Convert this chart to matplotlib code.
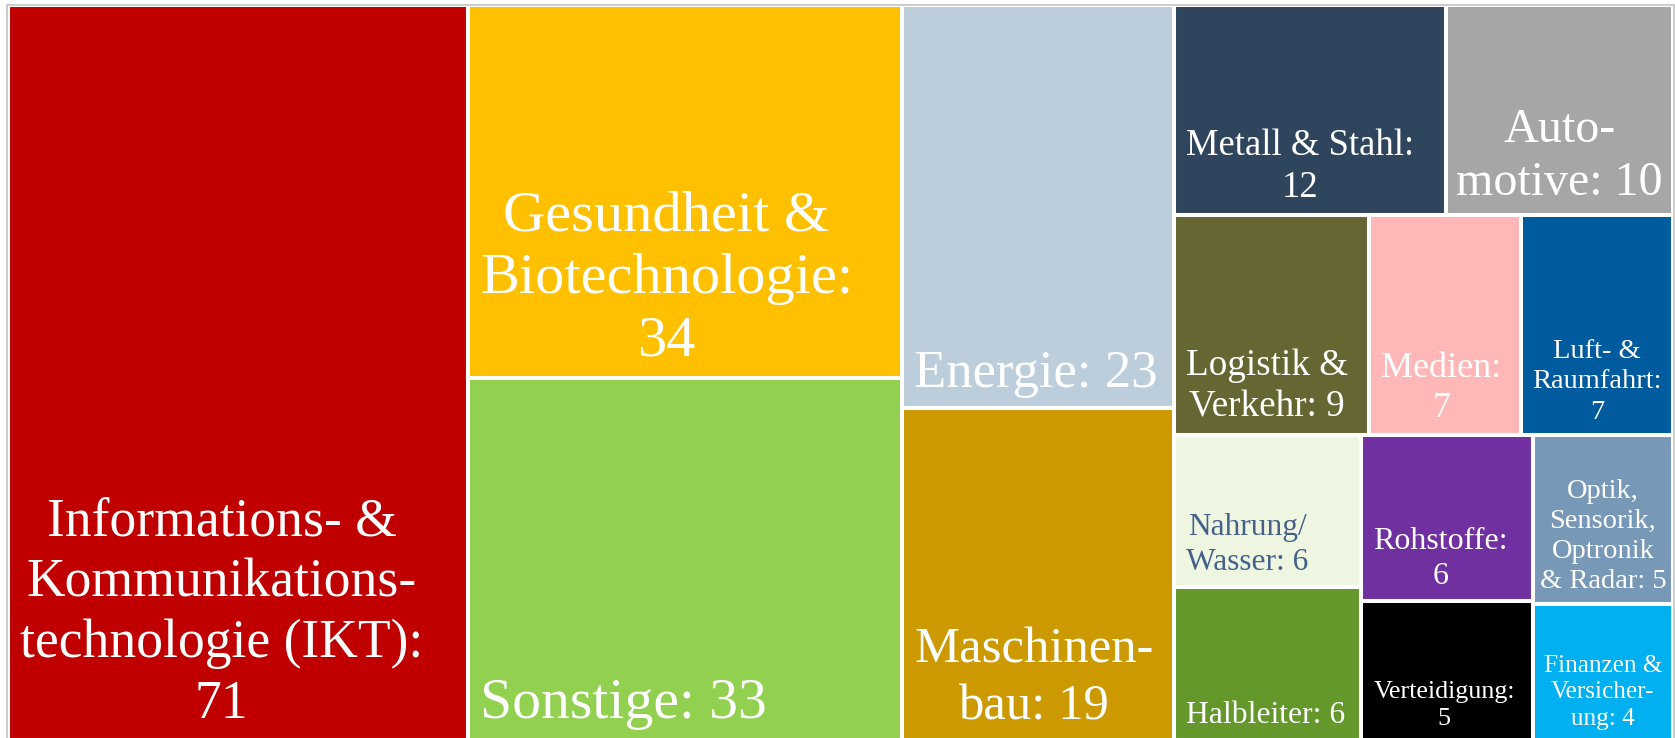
import matplotlib.pyplot as plt
from matplotlib.patches import Rectangle
from matplotlib import transforms

# Branchen und Anzahl
labels = [
    "Informations- &\nKommunikations-\ntechnologie (IKT):\n{v}",
    "Gesundheit &\nBiotechnologie:\n{v}",
    "Sonstige: {v}",
    "Energie: {v}",
    "Maschinen-\nbau: {v}",
    "Metall & Stahl:\n{v}",
    "Auto-\nmotive: {v}",
    "Logistik &\nVerkehr: {v}",
    "Medien:\n{v}",
    "Luft- &\nRaumfahrt:\n{v}",
    "Nahrung/\nWasser: {v}",
    "Rohstoffe:\n{v}",
    "Optik,\nSensorik,\nOptronik\n& Radar: {v}",
    "Halbleiter: {v}",
    "Verteidigung:\n{v}",
    "Finanzen &\nVersicher-\nung: {v}",
]
values = [71, 34, 33, 23, 19, 12, 10, 9, 7, 7, 6, 6, 5, 6, 5, 4]
colors = ['#C00000', '#FFC000', '#92D050', '#BCCDDC', '#CC9900', '#2F455E',
          '#A6A6A6', '#666633', '#FFB7B7', '#005A9E', '#EEF6E2', '#7030A0',
          '#7898B8', '#64982A', '#000000', '#00B0F0']
text_colors = ['white'] * 10 + ['#44618A'] + ['white'] * 5
font_sizes = [38.6, 42, 41.5, 38, 36.5, 26.4, 34.6, 26.7, 26, 20.5,
              22.6, 23, 20.5, 22.8, 18.7, 18.2]

# Aufteilung (abwechselnd horizontal / vertikal)
tree = [0, [1, 2], [3, 4], [[5, 6], [7, 8, 9], [[10, 13], [11, 14], [12, 15]]]]


def total(node):
    if isinstance(node, int):
        return values[node]
    return sum(total(n) for n in node)


rects = {}


def layout(node, x, y, w, h, horizontal):
    if isinstance(node, int):
        rects[node] = (x, y, w, h)
        return
    s = total(node)
    for child in node:
        f = total(child) / s
        if horizontal:
            layout(child, x, y, w * f, h, not horizontal)
            x += w * f
        else:
            layout(child, x, y, w, h * f, not horizontal)
            y += h * f


layout(tree, 0, 0, 1, 1, True)

W, H = 1675, 738
fig = plt.figure(figsize=(W / 100, H / 100), dpi=100)
ax = fig.add_axes([8 / W, (H - 740) / H, 1665 / W, 735 / H])
ax.set_xlim(0, 1)
ax.set_ylim(1, 0)
ax.axis('off')

texts = {}
for i, (x, y, w, h) in rects.items():
    ax.add_patch(Rectangle((x, y), w, h, facecolor=colors[i],
                           edgecolor='white', lw=2.9))
    texts[i] = ax.text(x, y + h, labels[i].format(v=values[i]),
                       ha='left', va='bottom', multialignment='center',
                       color=text_colors[i], fontsize=font_sizes[i],
                       family='Liberation Serif', linespacing=1.27)

# Textblock links mit Abstand, bei schmalen Feldern zentriert
fig.canvas.draw()
renderer = fig.canvas.get_renderer()
for i, t in texts.items():
    w_px = rects[i][2] * 1665
    tw = t.get_window_extent(renderer).width
    dx = min(12, (w_px - tw) / 2)
    t.set_transform(transforms.offset_copy(ax.transData, fig, x=dx, y=10,
                                           units='dots'))

fig.add_artist(Rectangle((6.5 / W, -0.05), 1667.5 / W, (H - 4.5) / H + 0.05,
                         transform=fig.transFigure, fill=False,
                         edgecolor='#C4C4C4', lw=1.2))

fig.savefig('out.png', dpi=100)
